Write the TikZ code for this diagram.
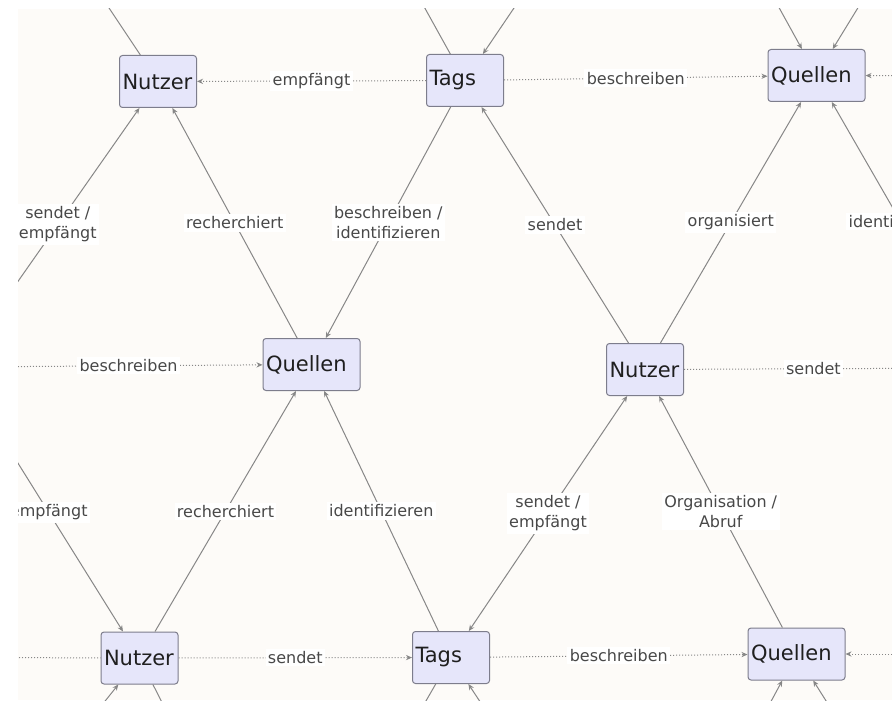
\documentclass[tikz,border=0pt]{standalone}
\usepackage{fontspec}
\setmainfont{DejaVu Sans}
\usepackage{tikz}
\usetikzlibrary{arrows.meta}

\definecolor{paper}{RGB}{253,251,248}
\definecolor{boxfill}{RGB}{230,230,250}
\definecolor{boxline}{RGB}{125,125,140}
\definecolor{linkgray}{RGB}{135,135,135}
\definecolor{labelgray}{RGB}{72,72,72}

\tikzset{
  concept/.style={draw=boxline, fill=boxfill, rounded corners=1.5pt, line width=0.5pt,
    font=\fontsize{10.5}{12}\selectfont, text=black!88, align=left,
    minimum height=26pt, inner xsep=1.5pt, inner ysep=0pt, text width=35.5pt},
  wide/.style={text width=45.5pt},
  rel/.style={font=\fontsize{8}{10}\selectfont, text=labelgray, fill=white,
    align=center, inner sep=1.2pt},
  flat/.style={densely dotted},
  arr/.style={-{Stealth[length=3pt,width=2.6pt]}},
  arrs/.style={{Stealth[length=3pt,width=2.6pt]}-{Stealth[length=3pt,width=2.6pt]}}
}

\begin{document}
\begin{tikzpicture}[x=0.5pt, y=-0.5pt,
    every edge/.style={draw=linkgray, line width=0.5pt}]
  \useasboundingbox (0,0) rectangle (892,700);
  \fill[white] (0,0) rectangle (892,700);
  \fill[paper] (18,9) rectangle (892,700);

  \begin{scope}
    \clip (18,9) rectangle (892,700);

    \node[concept]      (nutzerA)  at (158,81.5)  {Nutzer};
    \node[concept]      (tagsA)    at (465,80.5)  {Tags};
    \node[concept,wide] (quellenA) at (816.5,75.5) {Quellen};
    \node[concept,wide] (quellenB) at (311.5,364.5) {Quellen};
    \node[concept]      (nutzerB)  at (645,369.5) {Nutzer};
    \node[concept]      (nutzerC)  at (139.5,658) {Nutzer};
    \node[concept]      (tagsC)    at (451,657.5) {Tags};
    \node[concept,wide] (quellenC) at (796.5,654) {Quellen};

    % neighbours outside the cut
    \coordinate (top1)  at (-35,-208);
    \coordinate (top2)  at (305,-208);
    \coordinate (top3)  at (660,-208);
    \coordinate (top4)  at (990,-208);
    \coordinate (eastA) at (1150,76);
    \coordinate (westB) at (-42,367);
    \coordinate (eastB) at (985,368);
    \coordinate (westC) at (-200,657);
    \coordinate (eastC) at (1150,654);
    \coordinate (low1)  at (-90,945);
    \coordinate (low2)  at (285,945);
    \coordinate (low3)  at (640,945);
    \coordinate (low4)  at (980,945);

    \path (tagsA)    edge[flat,arr] node[rel] {empfängt}                       (nutzerA)
          (tagsA)    edge[flat,arr] node[rel] {beschreiben}                    (quellenA)
          (eastA)    edge[flat,arr]                                            (quellenA)
          (top1)     edge                                                      (nutzerA)
          (top2)     edge                                                      (tagsA)
          (top3)     edge[arr]                                                 (tagsA)
          (top3)     edge[arr]                                                 (quellenA)
          (top4)     edge[arr]                                                 (quellenA)
          (westB)    edge[arr]      node[rel,pos=.55] {sendet /\\empfängt}     (nutzerA)
          (quellenB) edge[arr]      node[rel] {recherchiert}                   (nutzerA)
          (tagsA)    edge[arr]      node[rel] {beschreiben /\\identifizieren}  (quellenB)
          (nutzerB)  edge[arr]      node[rel] {sendet}                         (tagsA)
          (nutzerB)  edge[arr]      node[rel] {organisiert}                    (quellenA)
          (eastB)    edge[arr]      node[rel,pos=.55] {identifizieren}         (quellenA)
          (westB)    edge[flat,arr] node[rel,pos=.56] {beschreiben}            (quellenB)
          (nutzerB)  edge[flat]     node[rel,pos=.43] {sendet}                 (eastB)
          (nutzerC)  edge[arr]      node[rel] {recherchiert}                   (quellenB)
          (tagsC)    edge[arr]      node[rel] {identifizieren}                 (quellenB)
          (westB)    edge[arr]      node[rel,pos=.55] {empfängt}               (nutzerC)
          (nutzerB)  edge[arrs]     node[rel] {sendet /\\empfängt}             (tagsC)
          (quellenC) edge[arr]      node[rel] {Organisation /\\Abruf}          (nutzerB)
          (nutzerC)  edge[flat,arr] node[rel] {sendet}                         (tagsC)
          (westC)    edge[flat]                                                (nutzerC)
          (tagsC)    edge[flat,arr] node[rel] {beschreiben}                    (quellenC)
          (eastC)    edge[flat,arr]                                            (quellenC)
          (low1)     edge[arr]                                                 (nutzerC)
          (low2)     edge                                                      (nutzerC)
          (low2)     edge                                                      (tagsC)
          (low3)     edge[arr]                                                 (tagsC)
          (low3)     edge[arr]                                                 (quellenC)
          (low4)     edge[arr]                                                 (quellenC);
  \end{scope}
\end{tikzpicture}
\end{document}
